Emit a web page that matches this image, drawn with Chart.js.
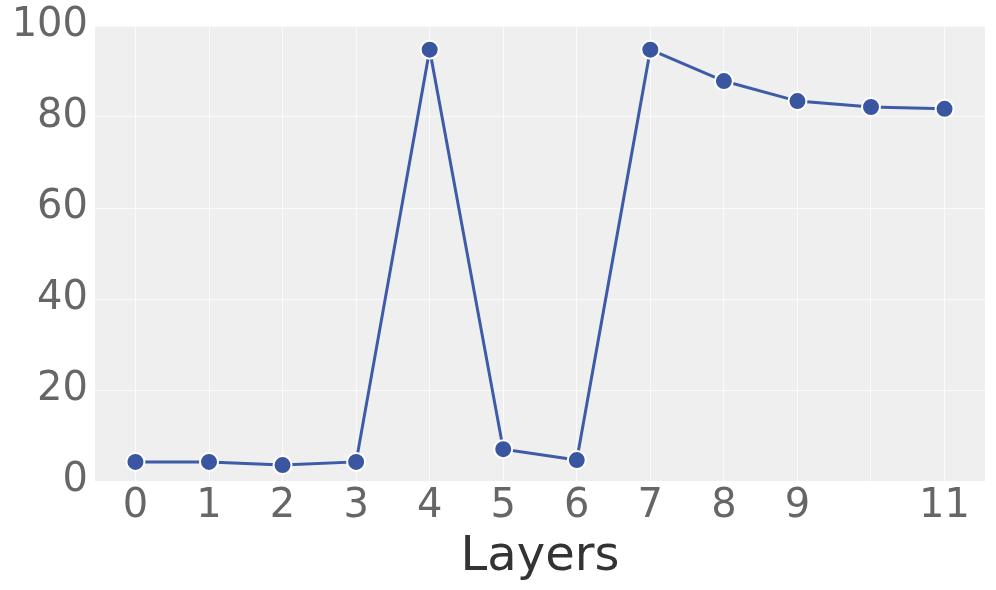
<!DOCTYPE html>
<html>
<head>
<meta charset="utf-8">
<script src="https://cdn.jsdelivr.net/npm/chart.js@4"></script>
<style>
  html, body { margin: 0; padding: 0; background: #fff; }
  #wrap { width: 996px; height: 590px; }
</style>
</head>
<body>
<div id="wrap"><canvas id="layerChart" width="996" height="590"></canvas></div>
<script>
const layers = [0, 1, 2, 3, 4, 5, 6, 7, 8, 9, 10, 11];
const accuracy = [4.2, 4.2, 3.5, 4.2, 94.8, 7.0, 4.6, 94.8, 87.9, 83.5, 82.2, 81.8];
const xTicks = [0, 1, 2, 3, 4, 5, 6, 7, 8, 9, 10, 11];
const xTickLabels = ['0', '1', '2', '3', '4', '5', '6', '7', '8', '9', '', '11'];
const yTicks = [0, 20, 40, 60, 80, 100];

// grey panel behind the plot area
const panelBg = {
    id: 'panelBg',
    beforeDraw(chart) {
        const { ctx, chartArea: a } = chart;
        ctx.save();
        ctx.fillStyle = '#efefef';
        ctx.fillRect(a.left, a.top, a.right - a.left, a.bottom - a.top);
        ctx.restore();
    }
};

const ctx = document.getElementById('layerChart').getContext('2d');
new Chart(ctx, {
    type: 'line',
    data: {
        datasets: [{
            data: layers.map((l, i) => ({ x: l, y: accuracy[i] })),
            borderColor: '#3d5ba6',
            borderWidth: 3,
            backgroundColor: '#3a56a0',
            pointRadius: 9,
            pointBorderColor: '#ffffff',
            pointBorderWidth: 2,
            tension: 0
        }]
    },
    options: {
        responsive: false,
        animation: false,
        layout: { padding: { left: 0, top: 26, right: 10, bottom: 0 } },
        plugins: { legend: { display: false }, tooltip: { enabled: false } },
        scales: {
            x: {
                type: 'linear',
                min: -0.55,
                max: 11.55,
                afterBuildTicks: (s) => { s.ticks = xTicks.map(v => ({ value: v })); },
                afterFit: (s) => { s.height = 109; },
                border: { display: false },
                grid: { color: 'rgba(255,255,255,0.7)', lineWidth: 1, drawTicks: false },
                ticks: {
                    padding: 2,
                    color: '#666666',
                    font: { family: 'DejaVu Sans', size: 40 },
                    callback: (v) => xTickLabels[xTicks.indexOf(v)]
                },
                title: {
                    display: true,
                    text: 'Layers',
                    color: '#333333',
                    font: { family: 'DejaVu Sans', size: 48 },
                    padding: { top: 0, bottom: 4 }
                }
            },
            y: {
                min: 0,
                max: 100,
                afterBuildTicks: (s) => { s.ticks = yTicks.map(v => ({ value: v })); },
                afterFit: (s) => { s.width = 95; },
                border: { display: false },
                grid: { color: 'rgba(255,255,255,0.7)', lineWidth: 1, drawTicks: false },
                ticks: {
                    padding: 7,
                    color: '#666666',
                    font: { family: 'DejaVu Sans', size: 40, lineHeight: 0.9 }
                }
            }
        }
    },
    plugins: [panelBg]
});
</script>
</body>
</html>
